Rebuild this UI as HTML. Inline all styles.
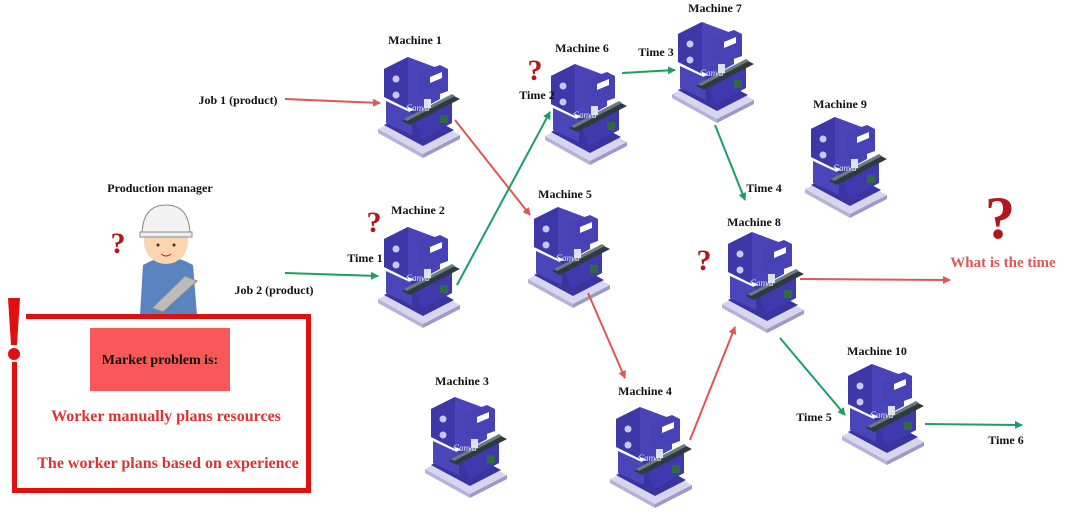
<!DOCTYPE html>
<html><head><meta charset="utf-8"><style>
body{margin:0;background:#fff}
svg text{font-family:"Liberation Serif",serif;font-weight:bold}
</style></head><body>
<svg width="1067" height="512" viewBox="0 0 1067 512" xmlns="http://www.w3.org/2000/svg">
<defs>
<g id="m">
<polygon points="0,74 45,99 82,80 37,56" fill="#d8d6ee"/>
<polygon points="0,74 45,99 45,103 0,78" fill="#b5b2d8"/>
<polygon points="45,99 82,80 82,84 45,103" fill="#9d99c8"/>
<polygon points="6,70 45,91 76,75 37,54" fill="#3a34a0"/>
<polygon points="6,14 30,2 62,14 62,44 40,56 6,42" fill="#4a44b8"/>
<polygon points="6,14 30,2 30,54 6,42" fill="#3d37a8"/>
<polygon points="40,18 62,10 70,14 70,36 48,44 40,40" fill="#4641b5"/>
<polygon points="8,46 34,58 34,80 8,68" fill="#4b45ba"/>
<polygon points="34,58 74,42 74,68 44,84" fill="#3f39ad"/>
<polygon points="24,66 74,40 82,44 32,70" fill="#2e3a40"/>
<polygon points="26,64 74,39 77,41 29,66" fill="#6a7c80"/>
<polygon points="52,22 64,17 64,23 52,28" fill="#fff"/>
<circle cx="18" cy="24" r="3.5" fill="#c9c6f0"/>
<circle cx="18" cy="40" r="3.5" fill="#c9c6f0"/>
<rect x="46" y="44" width="7" height="9" fill="#e0e0f0"/>
<rect x="62" y="60" width="8" height="8" fill="#2f6a40"/>
<text x="28" y="56" font-size="9" fill="#e8e8ff" style="font-style:italic;font-weight:normal">Canva</text>
</g>
<marker id="ar" markerWidth="8" markerHeight="8" refX="7" refY="4" orient="auto" markerUnits="userSpaceOnUse"><path d="M0,0 L8,4 L0,8 z" fill="#e05555"/></marker>
<marker id="ag" markerWidth="8" markerHeight="8" refX="7" refY="4" orient="auto" markerUnits="userSpaceOnUse"><path d="M0,0 L8,4 L0,8 z" fill="#1aa060"/></marker>
</defs>

<g font-size="12" fill="#111" text-anchor="middle">
<text x="415" y="44">Machine 1</text>
<text x="582" y="52">Machine 6</text>
<text x="715" y="12">Machine 7</text>
<text x="840" y="108">Machine 9</text>
<text x="418" y="214">Machine 2</text>
<text x="565" y="198">Machine 5</text>
<text x="754" y="226">Machine 8</text>
<text x="462" y="385">Machine 3</text>
<text x="645" y="395">Machine 4</text>
<text x="877" y="355">Machine 10</text>
<text x="160" y="192">Production manager</text>
<text x="238" y="104">Job 1 (product)</text>
<text x="274" y="294">Job 2 (product)</text>
<text x="365" y="262">Time 1</text>
<text x="656" y="56">Time 3</text>
<text x="764" y="192">Time 4</text>
<text x="814" y="421">Time 5</text>
<text x="1006" y="444">Time 6</text>
</g>
<text x="1003" y="267" font-size="15" fill="#e05555" text-anchor="middle">What is the time</text>

<use href="#m" x="378" y="55"/>
<use href="#m" x="545" y="62"/>
<use href="#m" x="672" y="20"/>
<use href="#m" x="805" y="115"/>
<use href="#m" x="378" y="225"/>
<use href="#m" x="528" y="205"/>
<use href="#m" x="722" y="230"/>
<use href="#m" x="425" y="395"/>
<use href="#m" x="610" y="405"/>
<use href="#m" x="842" y="362"/>
<text x="537" y="99" font-size="12" fill="#111" text-anchor="middle">Time 2</text>

<g stroke="#e05555" stroke-width="2" fill="none" marker-end="url(#ar)">
<line x1="285" y1="99" x2="380" y2="103"/>
<line x1="455" y1="120" x2="530" y2="215"/>
<line x1="588" y1="293" x2="625" y2="378"/>
<line x1="690" y1="440" x2="735" y2="327"/>
<line x1="800" y1="279" x2="950" y2="280"/>
</g>
<g stroke="#1aa060" stroke-width="2" fill="none" marker-end="url(#ag)">
<line x1="285" y1="273" x2="378" y2="276"/>
<line x1="457" y1="285" x2="550" y2="112"/>
<line x1="622" y1="73" x2="675" y2="70"/>
<line x1="715" y1="125" x2="745" y2="200"/>
<line x1="780" y1="338" x2="845" y2="415"/>
<line x1="925" y1="424" x2="1022" y2="425"/>
</g>

<g fill="#b3161c" font-size="30" text-anchor="middle">
<text x="535" y="80">?</text>
<text x="374" y="232">?</text>
<text x="704" y="270">?</text>
<text x="118" y="253">?</text>
<text x="1000" y="238" font-size="60">?</text>
</g>

<g>
<path d="M143,265 Q168,250 193,265 L197,315 L140,315 Z" fill="#5a84c0"/>
<circle cx="166" cy="242" r="22" fill="#fbd4b0"/>
<path d="M142,236 Q142,205 166,205 Q190,205 190,236 Z" fill="#f2f2f2" stroke="#888"/>
<rect x="140" y="232" width="52" height="5" fill="#eee" stroke="#888"/>
<circle cx="158" cy="245" r="1.5" fill="#333"/><circle cx="174" cy="245" r="1.5" fill="#333"/>
<path d="M161,254 Q166,258 171,254" stroke="#a33" fill="none"/>
<polygon points="152,308 185,276 197,281 163,312" fill="#bbb" stroke="#888"/>
</g>

<rect x="14.5" y="316.5" width="294" height="174" fill="none" stroke="#e01010" stroke-width="5"/>
<rect x="2" y="300" width="24" height="62" fill="#fff"/>
<polygon points="8,298 20,298 17,345 11,345" fill="#e01010"/>
<circle cx="14" cy="354" r="6" fill="#e01010"/>
<rect x="90" y="328" width="140" height="63" fill="#f95858"/>
<text x="160" y="364" font-size="14" fill="#111" text-anchor="middle">Market problem is:</text>
<text x="166" y="421" font-size="16" fill="#d33" text-anchor="middle">Worker manually plans resources</text>
<text x="168" y="468" font-size="16" fill="#d33" text-anchor="middle">The worker plans based on experience</text>
</svg>
</body></html>
